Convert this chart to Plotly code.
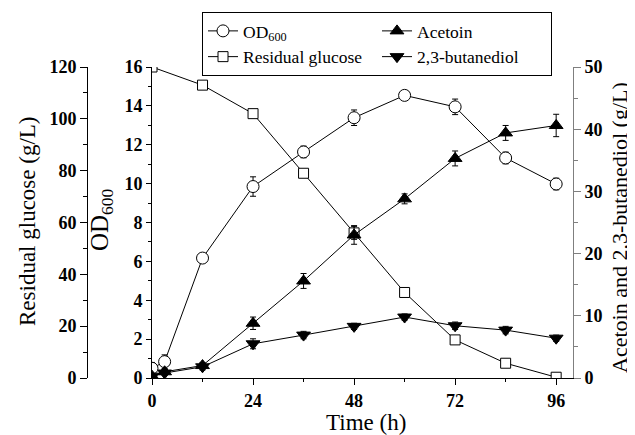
import plotly.graph_objects as go

# ---------------- data ----------------
time_od = [0, 3, 12, 24, 36, 48, 60, 72, 84, 96]
od600 = [0.5, 0.84, 6.17, 9.85, 11.63, 13.39, 14.54, 13.95, 11.32, 9.98]
od600_err = [0.3, 0.35, 0.15, 0.5, 0.3, 0.4, 0.15, 0.4, 0.3, 0.3]

time_glc = [0, 12, 24, 36, 48, 60, 72, 84, 96]
glucose = [120, 113, 102, 79, 56, 33, 14.7, 5.7, 0.3]
glucose_err = [0, 1, 1.5, 1, 2.5, 1, 1, 1.5, 0.5]

time_prod = [0, 3, 12, 24, 36, 48, 60, 72, 84, 96]
acetoin = [0.3, 1.0, 2.0, 8.8, 15.6, 23.0, 28.8, 35.3, 39.4, 40.6]
acetoin_err = [0.2, 0.3, 0.5, 1.0, 1.2, 1.5, 0.8, 1.2, 1.2, 1.8]
butanediol = [0.3, 0.8, 1.8, 5.5, 6.9, 8.3, 9.8, 8.4, 7.7, 6.4]
butanediol_err = [0.2, 0.3, 0.5, 0.8, 0.6, 0.5, 0.5, 0.6, 0.6, 0.5]

x_ticks = [0, 24, 48, 72, 96]

# ---------------- layout constants (reference pixel coords) ----------------
OFF = 8                      # page body margin
W, H = 635 - OFF, 435 - OFF  # figure size
GLC_AX, PL, PR, PT, PB = 87, 152, 573, 67, 378   # target pixel positions in window

ML = GLC_AX - OFF
MT = PT - OFF
MR = 635 - PR
MB = 435 - PB
PW = W - ML - MR
PH = H - MT - MB
x0_dom = (PL - GLC_AX) / PW

def xp(px):
    return (px - GLC_AX) / PW
def yp(py):
    return (PB - py) / PH

FONT = "Liberation Serif"
tickfont = dict(family=FONT, size=18, color="black", weight="bold")

fig = go.Figure()

line = dict(color="black", width=1)
def err(arr):
    return dict(type="data", array=arr, visible=True, color="black", thickness=1, width=3)

fig.add_trace(go.Scatter(
    x=time_prod, y=acetoin, name="Acetoin", yaxis="y3", legendrank=2,
    mode="lines+markers", line=line,
    marker=dict(symbol="triangle-up", size=12, color="black", line=dict(color="black", width=1)),
    error_y=err(acetoin_err)))
fig.add_trace(go.Scatter(
    x=time_prod, y=butanediol, name="2,3-butanediol", yaxis="y3", legendrank=4,
    mode="lines+markers", line=line,
    marker=dict(symbol="triangle-down", size=12, color="black", line=dict(color="black", width=1)),
    error_y=err(butanediol_err)))
fig.add_trace(go.Scatter(
    x=time_od, y=od600, name="OD<sub>600</sub>", yaxis="y", legendrank=1,
    mode="lines+markers", line=line,
    marker=dict(symbol="circle", size=12, color="white", line=dict(color="black", width=1)),
    error_y=err(od600_err)))
fig.add_trace(go.Scatter(
    x=time_glc, y=glucose, name="Residual glucose", yaxis="y2", legendrank=3,
    mode="lines+markers", line=line,
    marker=dict(symbol="square", size=10, color="white", line=dict(color="black", width=1)),
    error_y=err(glucose_err)))

axis_common = dict(showgrid=False, zeroline=False, showline=True, linewidth=1,
                   ticks="outside", tickwidth=1, tickfont=tickfont)

fig.update_layout(
    width=W, height=H,
    margin=dict(l=ML, r=MR, t=MT, b=MB, autoexpand=False),
    paper_bgcolor="white", plot_bgcolor="white",
    showlegend=True,
    legend=dict(orientation="h", x=xp(202), y=yp(12),
                xanchor="left", yanchor="top",
                entrywidth=129, entrywidthmode="pixels",
                bordercolor="black", borderwidth=1, bgcolor="white",
                font=dict(family=FONT, size=17.5, color="black"),
                itemsizing="trace", tracegroupgap=0),
    xaxis=dict(domain=[x0_dom, 1], range=[0, 100], tickvals=x_ticks,
               linecolor="black", ticklen=6, tickcolor="black",
               minor=dict(dtick=12, tick0=0, ticklen=3, ticks="outside", tickcolor="black"),
               **axis_common),
    yaxis=dict(range=[0, 16], dtick=2, anchor="x", side="left",
               linecolor="black", ticklen=5, tickcolor="black",
               minor=dict(dtick=1, ticklen=3, ticks="outside", tickcolor="black"),
               **axis_common),
    yaxis2=dict(range=[0, 120], dtick=20, overlaying="y", anchor="free", position=0, side="left",
                linecolor="black", ticklen=7, tickcolor="black",
                minor=dict(dtick=10, ticklen=4, ticks="outside", tickcolor="black"),
                **axis_common),
    yaxis3=dict(range=[0, 50], dtick=10, overlaying="y", anchor="x", side="right",
                linecolor="#7f7f7f", ticklen=7, tickcolor="#7f7f7f",
                minor=dict(dtick=5, ticklen=4, ticks="outside", tickcolor="#7f7f7f"),
                **axis_common),
)

titles = [
    dict(text="Residual glucose (g/L)", x=xp(27), y=yp(221), textangle=-90, size=23),
    dict(text="OD<sub>600</sub>", x=xp(101), y=yp(220), textangle=-90, size=25),
    dict(text="Acetoin and 2,3-butanediol (g/L)", x=xp(620), y=yp(228), textangle=-90, size=22),
    dict(text="Time (h)", x=xp(366), y=yp(422), textangle=0, size=23),
]
for t in titles:
    fig.add_annotation(text=t["text"], x=t["x"], y=t["y"], xref="paper", yref="paper",
                       xanchor="center", yanchor="middle", showarrow=False,
                       textangle=t["textangle"],
                       font=dict(family=FONT, size=t["size"], color="black"))

fig.write_html("out.html")
